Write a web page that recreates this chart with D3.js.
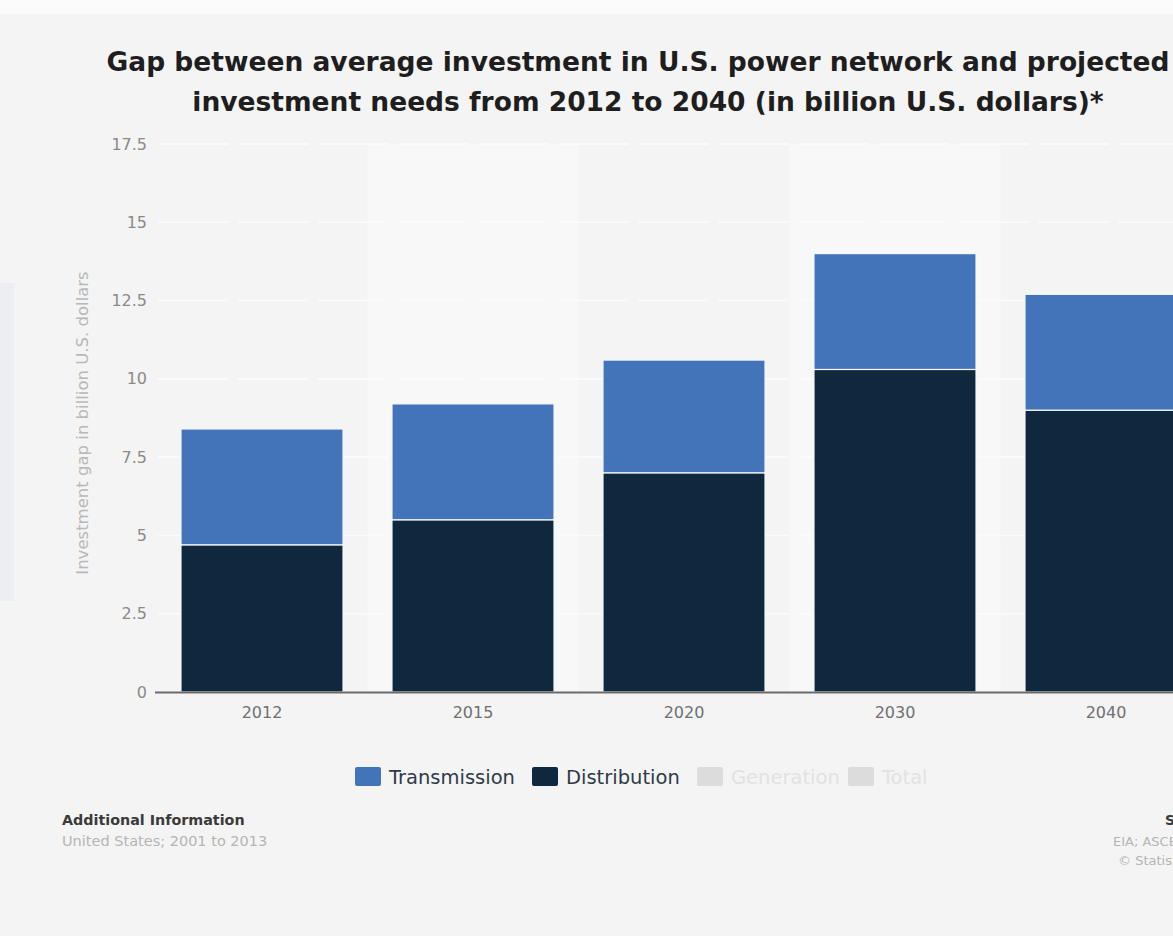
<!DOCTYPE html>
<html>
<head>
<meta charset="utf-8">
<script src="https://cdn.jsdelivr.net/npm/d3@7"></script>
<style>
  html, body { margin: 0; padding: 0; background: #f4f4f4; }
  svg { display: block; }
</style>
</head>
<body>
<script>
// Investment gap per year, split into grid segments (billion U.S. dollars)
const years = ["2012", "2015", "2020", "2030", "2040"];
const distribution = [4.7, 5.5, 7.0, 10.3, 9.0];
const transmission = [3.7, 3.7, 3.6, 3.7, 3.7];
const yTicks = [0, 2.5, 5, 7.5, 10, 12.5, 15, 17.5];
const legendItems = ["Transmission", "Distribution", "Generation", "Total"];

const W = 1173, H = 936;
const colors = { Transmission: "#4373b9", Distribution: "#10283d" };
const FONT = "DejaVu Sans, sans-serif";

const svg = d3.select("body").append("svg").attr("width", W).attr("height", H);

// page background
svg.append("rect").attr("width", W).attr("height", H).attr("fill", "#f4f4f4");
svg.append("rect").attr("width", W).attr("height", 14).attr("fill", "#fbfbfb");
svg.append("rect").attr("x", 0).attr("y", 283).attr("width", 14).attr("height", 318).attr("fill", "#eceef1");

// scales
const x = d3.scaleBand().domain(years).range([156.5, 1211.5]).paddingInner(0.232).paddingOuter(0.116);
const y = d3.scaleLinear().domain([0, 17.5]).range([692, 144]);

// alternating column shading
svg.append("g").selectAll("rect")
  .data(years.filter((d, i) => i % 2 === 1))
  .join("rect")
  .attr("x", d => x(d) - x.step() * x.paddingInner() / 2)
  .attr("y", y(17.5))
  .attr("width", x.step())
  .attr("height", y(0) - y(17.5))
  .attr("fill", "#f8f8f8");

// gridlines
svg.append("g").selectAll("line")
  .data(yTicks.filter(t => t > 0))
  .join("line")
  .attr("x1", 158).attr("x2", W)
  .attr("y1", d => y(d)).attr("y2", d => y(d))
  .attr("stroke", "#fbfbfb").attr("stroke-width", 1.6)
  .attr("stroke-dasharray", "70,10");

// stacked bars
const rows = years.map((yr, i) => ({ year: yr, Distribution: distribution[i], Transmission: transmission[i] }));
const stack = d3.stack().keys(["Distribution", "Transmission"])(rows);

svg.append("g").selectAll("g")
  .data(stack)
  .join("g")
  .attr("fill", d => colors[d.key])
  .selectAll("rect")
  .data(d => d)
  .join("rect")
  .attr("x", d => x(d.data.year))
  .attr("y", d => y(d[1]))
  .attr("width", x.bandwidth())
  .attr("height", d => y(d[0]) - y(d[1]))
  .attr("stroke", "#f4f8fc")
  .attr("stroke-width", 1.2);

// y axis (labels only)
const yAxis = svg.append("g")
  .attr("transform", "translate(149,0)")
  .call(d3.axisLeft(y).tickValues(yTicks).tickSize(0).tickPadding(2).tickFormat(d3.format("~g")));
yAxis.select(".domain").remove();
yAxis.selectAll("text")
  .attr("font-family", FONT)
  .attr("font-size", 16)
  .attr("fill", "#8a8a8a");

// x axis
const xAxis = svg.append("g")
  .attr("transform", `translate(0,${y(0)})`)
  .call(d3.axisBottom(x).tickSize(0).tickPadding(15));
xAxis.select(".domain").attr("d", `M155,0.5H${W}`).attr("stroke", "#6b6b6b").attr("stroke-width", 2);
xAxis.selectAll("text")
  .attr("font-family", FONT)
  .attr("font-size", 16)
  .attr("fill", "#707070");

// y axis title
svg.append("text")
  .attr("transform", "translate(88,423) rotate(-90)")
  .attr("text-anchor", "middle")
  .attr("font-family", FONT)
  .attr("font-size", 16.5)
  .attr("fill", "#b8b8b8")
  .text("Investment gap in billion U.S. dollars");

// chart title
const title = svg.append("text")
  .attr("text-anchor", "middle")
  .attr("font-family", FONT)
  .attr("font-weight", "bold")
  .attr("font-size", 26.5)
  .attr("fill", "#1e1e1e");
title.append("tspan").attr("x", 638).attr("y", 71)
  .text("Gap between average investment in U.S. power network and projected");
title.append("tspan").attr("x", 648).attr("y", 111)
  .text("investment needs from 2012 to 2040 (in billion U.S. dollars)*");

// legend
const legendX = [355, 532, 697, 848];
const legend = svg.append("g").selectAll("g")
  .data(legendItems)
  .join("g")
  .attr("transform", (d, i) => `translate(${legendX[i]},767)`);
legend.append("rect")
  .attr("width", 26).attr("height", 19).attr("rx", 2)
  .attr("fill", d => colors[d] || "#dcdcdc");
legend.append("text")
  .attr("x", 34).attr("y", 17)
  .attr("font-family", FONT)
  .attr("font-size", 19.5)
  .attr("fill", d => colors[d] ? "#2f3a48" : "#e2e2e2")
  .text(d => d);

// footer
svg.append("text")
  .attr("x", 62).attr("y", 825)
  .attr("font-family", FONT)
  .attr("font-weight", "bold")
  .attr("font-size", 14.3)
  .attr("fill", "#3a3a3a")
  .text("Additional Information");
svg.append("text")
  .attr("x", 62).attr("y", 846)
  .attr("font-family", FONT)
  .attr("font-size", 14.5)
  .attr("fill", "#b5b5b5")
  .text("United States; 2001 to 2013");
svg.append("text")
  .attr("x", 1165).attr("y", 825)
  .attr("font-family", FONT)
  .attr("font-weight", "bold")
  .attr("font-size", 14)
  .attr("fill", "#3a3a3a")
  .text("Source");
svg.append("text")
  .attr("x", 1113).attr("y", 846)
  .attr("font-family", FONT)
  .attr("font-size", 13)
  .attr("fill", "#b5b5b5")
  .text("EIA; ASCE");
svg.append("text")
  .attr("x", 1118).attr("y", 865)
  .attr("font-family", FONT)
  .attr("font-size", 13)
  .attr("fill", "#b5b5b5")
  .text("© Statista 2015");
</script>
</body>
</html>
